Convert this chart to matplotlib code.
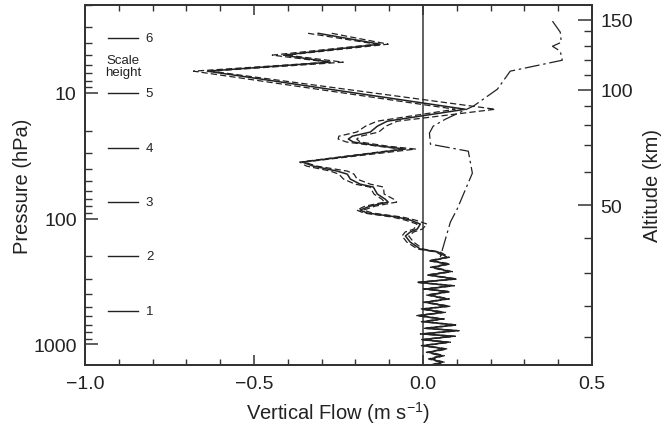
import matplotlib
matplotlib.use("Agg")
from matplotlib import pyplot as plt
from matplotlib import ticker

plt.rcParams["font.family"] = ["Liberation Sans", "DejaVu Sans"]
plt.rcParams["mathtext.fontset"] = "custom"
plt.rcParams["mathtext.rm"] = "Liberation Sans"
plt.rcParams["mathtext.it"] = "Liberation Sans:italic"

## 平均の鉛直流プロファイル (気圧 hPa, 速度 m/s)
p_mean = [3.36, 4.10, 5.01, 5.70, 6.72, 13.5, 16.8, 18.4, 20.5, 22.1, 23.3, 24.6, 26.5, 28.0,
          35.5, 38.2, 41.9, 44.3, 48.5, 53.2, 56.1, 63.8, 70.0, 73.9, 79.5, 85.5, 90.3, 97.2,
          102.7, 110.5, 121.1, 127.9, 137.6, 153.6, 174.6, 184.5,
          203.2, 216.3, 229.6, 243.9, 264.3, 280.9, 302.2, 321.2, 341.8, 363.0, 381.2, 405.1,
          435.5, 462.9, 497.8, 523.5, 556.1, 591.5, 628.4, 660.1, 701.5, 745.0, 778.4, 826.4,
          862.4, 917.8, 961.9, 1023, 1088, 1156, 1230, 1306, 1387, 1459]
w_mean = [-0.310, -0.127, -0.413, -0.274, -0.638, 0.125, -0.106, -0.135, -0.156, -0.209, -0.221, -0.206, -0.126, -0.052,
          -0.357, -0.325, -0.254, -0.224, -0.215, -0.186, -0.147, -0.135, -0.112, -0.103, -0.156, -0.186, -0.165, -0.076,
          -0.038, -0.008, -0.017, -0.038, -0.052, -0.038, -0.008, 0.045,
          0.072, 0.022, 0.075, 0.028, 0.081, 0.016, 0.096, -0.014, 0.087, 0.007, 0.075, 0.016,
          0.072, 0.007, 0.075, -0.002, 0.060, -0.014, 0.057, 0.001, 0.096, 0.007, 0.101, -0.002,
          0.090, -0.002, 0.075, 0.001, 0.066, 0.016, 0.057, 0.022, 0.057, 0.028]
## 破線 (幅の両端)
w_left = [-0.340, -0.137, -0.446, -0.279, -0.679, 0.095, -0.136, -0.170, -0.196, -0.249, -0.251, -0.226, -0.136, -0.062,
          -0.365, -0.345, -0.274, -0.249, -0.235, -0.201, -0.157, -0.145, -0.122, -0.113, -0.171, -0.196, -0.175, -0.091,
          -0.053, -0.018, -0.027, -0.053, -0.062, -0.048, -0.016, 0.039,
          0.066, 0.016, 0.069, 0.022, 0.075, 0.010, 0.090, -0.020, 0.081, 0.001, 0.069, 0.010,
          0.066, 0.001, 0.069, -0.008, 0.054, -0.020, 0.051, -0.005, 0.090, 0.001, 0.095, -0.008,
          0.084, -0.008, 0.069, -0.005, 0.060, 0.010, 0.051, 0.016, 0.051, 0.022]
w_right = [-0.270, -0.103, -0.403, -0.236, -0.628, 0.214, -0.076, -0.110, -0.131, -0.184, -0.196, -0.186, -0.106, -0.022,
           -0.352, -0.315, -0.224, -0.204, -0.195, -0.156, -0.117, -0.115, -0.087, -0.078, -0.141, -0.176, -0.150, -0.061,
           -0.023, 0.012, -0.002, -0.028, -0.042, -0.028, 0.000, 0.051,
           0.078, 0.028, 0.081, 0.034, 0.087, 0.022, 0.102, -0.008, 0.093, 0.013, 0.081, 0.022,
           0.078, 0.013, 0.081, 0.004, 0.066, -0.008, 0.063, 0.007, 0.102, 0.013, 0.107, 0.004,
           0.096, 0.004, 0.081, 0.007, 0.072, 0.022, 0.063, 0.028, 0.063, 0.034]

## 一点鎖線のプロファイル
p_dd = [2.69, 3.29, 3.96, 4.26, 4.66, 5.50, 6.72, 9.35, 12.75, 16.2, 18.4, 20.9, 25.6, 29.1, 43.5, 84.0, 106.5, 202.1]
w_dd = [0.383, 0.406, 0.409, 0.383, 0.406, 0.412, 0.258, 0.220, 0.149, 0.066, 0.030, 0.019, 0.022, 0.134, 0.146, 0.101, 0.081, 0.051]

## スケールハイトの目盛り
scale_n = ["1", "2", "3", "4", "5", "6"]
scale_p = [540, 200, 73.5, 27.2, 10.0, 3.68]

## 右軸 高度 (km) と対応する気圧
alt_km = [10, 20, 30, 40, 50, 60, 70, 80, 90, 100, 110, 120, 130, 140, 150]
alt_hpa = [879, 498, 271, 143.5, 78.0, 42.5, 25.9, 18.1, 12.8, 9.47, 7.23, 5.50, 4.24, 3.25, 2.63]
alt_major = [50, 100, 150]

fig = plt.figure(figsize=(6.67, 4.27), dpi=100)
ax = fig.add_axes([0.1274, 0.1429, 0.7602, 0.8431])

ink = "#222222"
ax.axvline(0.0, color="#555555", lw=1.3, zorder=1)
ax.plot(w_left, p_mean, color=ink, lw=0.9, dashes=(5, 2.5))
ax.plot(w_right, p_mean, color=ink, lw=0.9, dashes=(5, 2.5))
ax.plot(w_mean, p_mean, color=ink, lw=1.1)
ax.plot(w_dd, p_dd, color=ink, lw=0.9, dashes=(12, 3, 2, 3))

for n, p in zip(scale_n, scale_p):
    ax.plot([-0.932, -0.843], [p, p], color=ink, lw=1.0)
    ax.text(-0.82, p, n, fontsize=9.5, va="center", ha="left", color=ink)
ax.text(-0.887, 6.1, "Scale\nheight", fontsize=9.5, ha="center", va="center",
        linespacing=1.0, color=ink)

ax.set_yscale("log")
ax.set_ylim(1459, 2.0)
ax.set_xlim(-1.0, 0.5)
ax.set_xticks([-1.0, -0.5, 0.0, 0.5])
ax.xaxis.set_minor_locator(ticker.MultipleLocator(0.1))
ax.xaxis.set_major_formatter(ticker.FuncFormatter(lambda v, pos: f"{v:.1f}".replace("-", "\u2212")))
ax.set_yticks([10, 100, 1000])
ax.yaxis.set_major_formatter(ticker.FuncFormatter(lambda v, pos: f"{v:g}"))
ax.yaxis.set_minor_formatter(ticker.NullFormatter())
ax.tick_params(which="both", direction="in", top=True, right=False, colors="#333333",
               labelcolor=ink, labelsize=14)
ax.tick_params(which="major", length=9, width=1.1, pad=6)
ax.tick_params(which="minor", length=5, width=1.0)
ax.tick_params(axis="x", which="major", length=7, pad=7)
ax.tick_params(axis="x", which="minor", length=4)
for s in ax.spines.values():
    s.set_color("#333333")
    s.set_linewidth(1.3)

ax.set_xlabel("Vertical Flow (m s$^{-1}$)", fontsize=14.5, color=ink, labelpad=5)
ax.set_ylabel("Pressure (hPa)", fontsize=14.5, color=ink, labelpad=1)

## 右軸
ax2 = ax.twinx()
ax2.set_yscale("log")
ax2.set_ylim(ax.get_ylim())
maj = [alt_hpa[alt_km.index(a)] for a in alt_major]
ax2.set_yticks(maj)
ax2.set_yticklabels([str(a) for a in alt_major])
ax2.set_yticks([h for a, h in zip(alt_km, alt_hpa) if a not in alt_major], minor=True)
ax2.yaxis.set_minor_formatter(ticker.NullFormatter())
ax2.tick_params(which="both", direction="in", colors="#333333", labelcolor=ink, labelsize=14)
ax2.tick_params(which="major", length=10, width=1.1, pad=6)
ax2.tick_params(which="minor", length=6, width=1.0)
ax2.set_ylabel("Altitude (km)", fontsize=14.5, color=ink, labelpad=7)
for s in ax2.spines.values():
    s.set_color("#333333")
    s.set_linewidth(1.3)

fig.savefig("out.png", dpi=100)
